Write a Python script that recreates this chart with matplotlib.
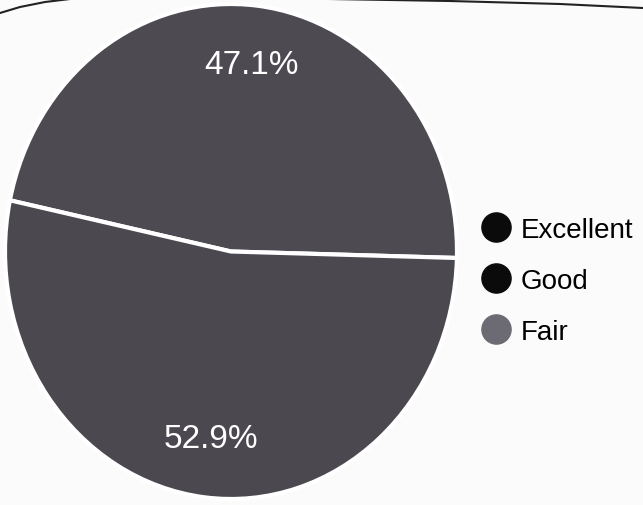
import numpy as np
import matplotlib.pyplot as plt
from matplotlib.lines import Line2D

plt.rcParams['font.family'] = ['Liberation Sans', 'DejaVu Sans']

# data
categories = ['Excellent', 'Good', 'Fair']
shares = [0.0, 47.1, 52.9]
wedge_colors = ['#111111', '#4d4a52', '#4b4850']
legend_colors = ['#0b0b0b', '#0b0b0b', '#6c6a72']

fig = plt.figure(figsize=(6.43, 5.06), dpi=100)
fig.patch.set_facecolor('#fbfbfb')

# pie axes placed on the (slightly squashed) ellipse of the scan
ax = fig.add_axes([5 / 643, 6 / 506, 452 / 643, 495 / 506])

def pct(v):
    return '' if v < 0.05 else '%.1f%%' % v

wedges, texts, autotexts = ax.pie(
    shares, colors=wedge_colors, startangle=-1.5, autopct=pct,
    pctdistance=0.76, radius=1,
    wedgeprops=dict(edgecolor='white', linewidth=3),
    textprops=dict(color='white', fontsize=24))
ax.set_aspect('auto')
ax.set_xlim(-1, 1)
ax.set_ylim(-1, 1)

# legend with round markers
handles = [Line2D([], [], marker='o', linestyle='none', markersize=21,
                  markerfacecolor=c, markeredgecolor=c) for c in legend_colors]
fig.legend(handles, categories, loc='center left', bbox_to_anchor=(480 / 643, 0.443),
           frameon=False, fontsize=20, handletextpad=0.3, labelspacing=0.9,
           handlelength=1.15, borderpad=0, borderaxespad=0)

# curved frame edge at the top of the scanned page
xl = np.array([0, 20, 45, 70]) / 643
yl = 1 - np.array([14, 8, 3, 0]) / 506
fig.add_artist(Line2D(xl, yl, color='#222222', linewidth=1.5, transform=fig.transFigure))
xr = np.array([330, 450, 560, 643]) / 643
yr = 1 - np.array([0, 2, 5, 9]) / 506
fig.add_artist(Line2D(xr, yr, color='#222222', linewidth=1.5, transform=fig.transFigure))

fig.savefig('out.png', dpi=100, facecolor=fig.get_facecolor())
